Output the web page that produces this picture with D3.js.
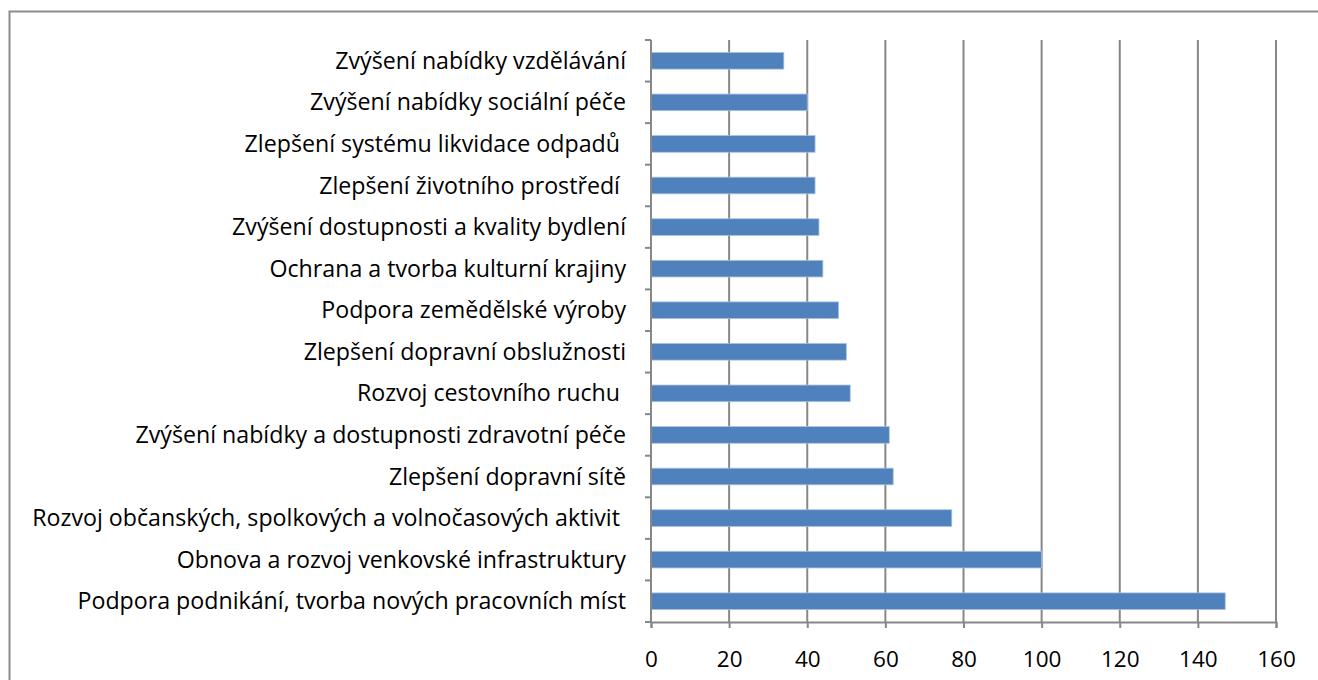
<!DOCTYPE html>
<html>
<head>
  <meta charset="utf-8">
  <title>Priority</title>
  <style>
  body { margin: 0; background: #fff; }
  svg text { font-family: "Open Sans", sans-serif; fill: #000; white-space: pre; }
  </style>
</head>
<body>
  <svg width="1318" height="680"></svg>
  <script src="https://d3js.org/d3.v7.min.js"></script>
  <script>
    // categories from top to bottom
    var categories = [
      "Zvýšení nabídky vzdělávání",
      "Zvýšení nabídky sociální péče",
      "Zlepšení systému likvidace odpadů ",
      "Zlepšení životního prostředí ",
      "Zvýšení dostupnosti a kvality bydlení",
      "Ochrana a tvorba kulturní krajiny",
      "Podpora zemědělské výroby",
      "Zlepšení dopravní obslužnosti",
      "Rozvoj cestovního ruchu ",
      "Zvýšení nabídky a dostupnosti zdravotní péče",
      "Zlepšení dopravní sítě",
      "Rozvoj občanských, spolkových a volnočasových aktivit ",
      "Obnova a rozvoj venkovské infrastruktury",
      "Podpora podnikání, tvorba nových pracovních míst"
    ];
    var values = [34, 40, 42, 42, 43, 44, 48, 50, 51, 61, 62, 77, 100, 147];
    var xTicks = [0, 20, 40, 60, 80, 100, 120, 140, 160];

    var svg = d3.select("svg");

    // chart frame
    svg.append("rect")
      .attr("x", 9.5).attr("y", 11.5)
      .attr("width", 1400).attr("height", 800)
      .attr("fill", "none")
      .attr("stroke", "#8c8c8c")
      .attr("stroke-width", 2);

    var xScale = d3.scaleLinear().domain([0, 160]).range([651, 1276]);
    var yScale = d3.scaleBand().domain(categories).range([40, 622]).paddingInner(0.6).paddingOuter(0.3);
    var yBand = d3.scaleBand().domain(categories).range([40, 622]);

    // vertical gridlines
    svg.append("g")
      .selectAll("line")
      .data(xTicks.slice(1))
      .enter().append("line")
      .attr("x1", d => xScale(d)).attr("x2", d => xScale(d))
      .attr("y1", 40).attr("y2", 622)
      .attr("stroke", "#878787")
      .attr("stroke-width", 2);

    // bars
    svg.append("g")
      .selectAll("rect")
      .data(values)
      .enter().append("rect")
      .attr("x", xScale(0))
      .attr("y", (d, i) => yScale(categories[i]))
      .attr("width", d => xScale(d) - xScale(0))
      .attr("height", yScale.bandwidth())
      .attr("fill", "#4f81bd")
      .attr("stroke", "#a9c0dd")
      .attr("stroke-width", 0.8);

    // bottom axis
    var xAxis = d3.axisBottom(xScale).tickValues(xTicks).tickSize(6).tickPadding(23);
    var gx = svg.append("g").attr("transform", "translate(0,622)").call(xAxis);
    gx.select(".domain").attr("stroke", "#878787").attr("stroke-width", 2);
    gx.selectAll(".tick line").attr("stroke", "#878787").attr("stroke-width", 2);
    gx.selectAll(".tick text").attr("font-size", 22.5).attr("font-family", "'Open Sans', sans-serif").attr("fill", "#000");

    // left axis with ticks between categories
    svg.append("line")
      .attr("x1", 651).attr("x2", 651).attr("y1", 40).attr("y2", 622)
      .attr("stroke", "#878787").attr("stroke-width", 2);
    var bounds = categories.map(c => yBand(c)).concat([622]);
    svg.append("g")
      .selectAll("line")
      .data(bounds)
      .enter().append("line")
      .attr("x1", 645).attr("x2", 651)
      .attr("y1", d => d).attr("y2", d => d)
      .attr("stroke", "#878787").attr("stroke-width", 2);

    // category labels
    svg.append("g")
      .selectAll("text")
      .data(categories)
      .enter().append("text")
      .attr("x", 626)
      .attr("y", d => yBand(d) + yBand.bandwidth() / 2)
      .attr("dy", "0.35em")
      .attr("text-anchor", "end")
      .attr("font-size", 23.2)
      .text(d => d);
  </script>
</body>
</html>
